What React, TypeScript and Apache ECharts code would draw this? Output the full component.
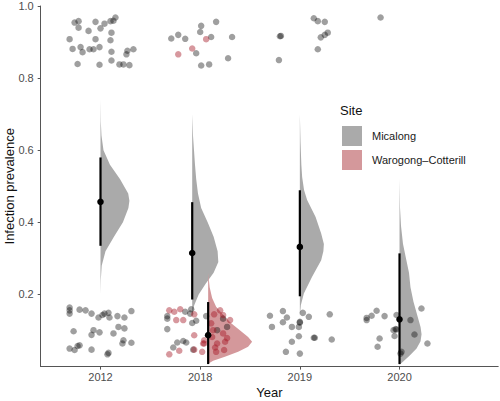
import React, { useEffect, useRef } from 'react';
import * as echarts from 'echarts';

const years = ['2012', '2018', '2019', '2020'];
const yTicks = [0.2, 0.4, 0.6, 0.8, 1.0];

// Raw observations: [jitter offset from the year position, prevalence]
const mic2012: [number, number][] = [
  [-0.26, 0.954], [-0.22, 0.958], [-0.22, 0.94], [-0.12, 0.931], [-0.05, 0.956], [0, 0.938], [0.04, 0.951],
  [0.1, 0.958], [0.13, 0.959], [0.15, 0.968], [0.11, 0.926], [-0.31, 0.908], [-0.05, 0.908], [0.1, 0.905],
  [-0.28, 0.881], [-0.2, 0.886], [-0.18, 0.872], [-0.11, 0.88], [-0.07, 0.88], [-0.01, 0.886], [0.11, 0.873],
  [0.27, 0.876], [0.33, 0.88], [0.26, 0.866], [-0.23, 0.839], [-0.01, 0.837], [0.11, 0.849], [0.19, 0.838],
  [0.23, 0.838], [0.29, 0.836],
  [-0.31, 0.164], [-0.31, 0.156], [-0.31, 0.147], [-0.21, 0.158], [-0.15, 0.156], [-0.09, 0.147], [-0.02, 0.136],
  [0.02, 0.143], [0.04, 0.147], [0.08, 0.149], [0.09, 0.136], [0.17, 0.14], [0.24, 0.136], [0.31, 0.154],
  [-0.27, 0.098], [-0.07, 0.101], [-0.09, 0.088], [-0.01, 0.095], [0.13, 0.092], [0.18, 0.11], [0.24, 0.106],
  [0.23, 0.073], [0.22, 0.064], [0.31, 0.066], [-0.31, 0.05], [-0.26, 0.046], [-0.23, 0.057], [-0.21, 0.059],
  [-0.09, 0.047], [0.08, 0.038], [0.07, 0.034],
];
const mic2018: [number, number][] = [
  [-0.29, 0.91], [-0.22, 0.92], [-0.15, 0.909], [0.01, 0.945], [0.0, 0.928], [0.16, 0.956], [0.11, 0.914],
  [0.32, 0.914], [-0.04, 0.869], [0.28, 0.855], [0.01, 0.835], [0.09, 0.838],
  [-0.33, 0.133], [-0.33, 0.104], [-0.15, 0.152], [-0.1, 0.147], [-0.09, 0.159], [-0.08, 0.121], [-0.04, 0.127],
  [0.06, 0.14], [-0.23, 0.067], [-0.17, 0.071], [-0.14, 0.067], [-0.27, 0.053], [-0.07, 0.047], [0.17, 0.101],
  [0.27, 0.11], [0.23, 0.133], [-0.33, 0.14],
];
const war2018: [number, number][] = [
  [-0.22, 0.866], [-0.08, 0.882], [0.06, 0.908],
  [-0.31, 0.156], [-0.26, 0.152], [-0.2, 0.159], [-0.24, 0.129], [-0.17, 0.129], [-0.06, 0.145], [-0.06, 0.087],
  [0.04, 0.073], [0.03, 0.064], [-0.31, 0.034], [-0.21, 0.044], [0.02, 0.041], [0.2, 0.156], [0.23, 0.143],
  [0.3, 0.129], [0.23, 0.092], [0.17, 0.064], [0.25, 0.069], [0.24, 0.046], [0.16, 0.041], [0.15, 0.053],
  [0.12, 0.082], [0.14, 0.145], [0.04, 0.064], [-0.06, 0.047], [0.11, 0.12], [0.27, 0.079], [0.13, 0.101],
];
const mic2019: [number, number][] = [
  [-0.2, 0.916], [-0.19, 0.917], [-0.21, 0.85], [0.14, 0.966], [0.18, 0.958], [0.25, 0.956], [0.28, 0.926],
  [0.25, 0.92], [0.21, 0.913], [0.18, 0.88],
  [-0.3, 0.141], [-0.28, 0.11], [-0.17, 0.154], [-0.13, 0.136], [-0.17, 0.123], [-0.08, 0.11], [-0.01, 0.11],
  [0.0, 0.122], [0.0, 0.124], [0.03, 0.149], [0.09, 0.138], [-0.01, 0.084], [-0.08, 0.069], [-0.14, 0.041],
  [0.0, 0.036], [0.14, 0.08], [0.15, 0.08], [0.3, 0.145], [0.32, 0.075],
];
const mic2020: [number, number][] = [
  [-0.19, 0.968],
  [-0.33, 0.129], [-0.33, 0.135], [-0.28, 0.141], [-0.23, 0.155], [-0.15, 0.14], [-0.03, 0.143], [-0.06, 0.101],
  [-0.04, 0.104], [-0.03, 0.103], [-0.05, 0.085], [-0.2, 0.078], [-0.22, 0.055], [0.02, 0.041], [0.01, 0.036],
  [0.11, 0.129], [0.15, 0.089], [0.22, 0.161], [0.28, 0.064],
];

// Posterior densities: prevalence levels and half-violin widths (category units)
const dMic2012Lv = [0.74, 0.68, 0.64, 0.6, 0.56, 0.52, 0.48, 0.46, 0.44, 0.4, 0.36, 0.32, 0.28, 0.24, 0.2];
const dMic2012W = [0, 0.003, 0.01, 0.03, 0.095, 0.195, 0.278, 0.29, 0.28, 0.225, 0.135, 0.05, 0.012, 0.003, 0];
const dMic2018Lv = [0.7, 0.64, 0.6, 0.56, 0.52, 0.48, 0.44, 0.4, 0.36, 0.32, 0.29, 0.26, 0.23, 0.2, 0.17, 0.14];
const dMic2018W = [0, 0.008, 0.018, 0.028, 0.04, 0.058, 0.09, 0.155, 0.215, 0.255, 0.262, 0.215, 0.135, 0.065, 0.02, 0];
const dMic2019Lv = [0.7, 0.62, 0.56, 0.526, 0.49, 0.462, 0.415, 0.369, 0.34, 0.32, 0.295, 0.249, 0.203, 0.17, 0.14];
const dMic2019W = [0, 0.007, 0.015, 0.023, 0.042, 0.073, 0.158, 0.214, 0.241, 0.236, 0.214, 0.123, 0.04, 0.01, 0];
const dMic2020Lv = [0.52, 0.44, 0.39, 0.34, 0.3, 0.26, 0.22, 0.18, 0.14, 0.11, 0.09, 0.07, 0.05, 0.03, 0.015, 0.005];
const dMic2020W = [0, 0.005, 0.015, 0.035, 0.065, 0.095, 0.11, 0.14, 0.18, 0.211, 0.221, 0.211, 0.171, 0.1, 0.04, 0];
const dWar2018Lv = [0.26, 0.22, 0.19, 0.166, 0.138, 0.12, 0.101, 0.082, 0.069, 0.055, 0.041, 0.027, 0.016, 0.008];
const dWar2018W = [0, 0.015, 0.04, 0.08, 0.168, 0.231, 0.318, 0.401, 0.441, 0.401, 0.301, 0.168, 0.05, 0];

// Posterior summaries: [lower, upper, point estimate]
const sumMic2012 = [0.335, 0.58, 0.457];
const sumMic2018 = [0.186, 0.456, 0.315];
const sumMic2019 = [0.195, 0.489, 0.332];
const sumMic2020 = [0.007, 0.314, 0.131];
const sumWar2018 = [0.007, 0.179, 0.087];

const DODGE = 0.08;
const GREY = '#aaaaaa';
const PINK = '#d4989b';
const FONT = '"Liberation Sans", Arial, Helvetica, sans-serif';

export default function App() {
  const ref = useRef<HTMLDivElement>(null);
  useEffect(() => {
    if (!ref.current) return;
    const chart = echarts.init(ref.current, undefined, { renderer: 'svg' });

    const micObs = [mic2012, mic2018, mic2019, mic2020];
    const micDens = [
      [dMic2012Lv, dMic2012W], [dMic2018Lv, dMic2018W], [dMic2019Lv, dMic2019W], [dMic2020Lv, dMic2020W],
    ];
    const micSum = [sumMic2012, sumMic2018, sumMic2019, sumMic2020];
    const micCenters = [1, 2 - DODGE, 3, 4];
    const warCenter = 2 + DODGE;

    const micPts: number[][] = [];
    micObs.forEach((arr, i) => arr.forEach(([dx, v]) => micPts.push([i + 1 + dx, v])));
    const warPts = war2018.map(([dx, v]) => [2 + dx, v]);

    const violin = (dens: number[][][], centers: number[], fill: string) =>
      (params: any, api: any) => {
        const i = params.dataIndex;
        const [lv, w] = dens[i];
        const c = centers[i];
        const points = lv.map((v: number, k: number) => api.coord([c + w[k], v]));
        return { type: 'polygon', shape: { points }, style: { fill } };
      };

    const intervals = [
      ...micSum.map((s, i) => [micCenters[i], s[0], s[1], s[2]]),
      [warCenter, sumWar2018[0], sumWar2018[1], sumWar2018[2]],
    ];

    chart.setOption({
      animation: false,
      grid: { left: 40.7, top: 6, width: 457.5, height: 360.6, outerBoundsMode: 'none', containLabel: false },
      legend: {
        data: ['Micalong', 'Warogong–Cotterill'],
        orient: 'vertical',
        left: 342,
        top: 126,
        itemWidth: 20,
        itemHeight: 20,
        itemGap: 4,
        padding: 0,
        icon: 'rect',
        selectedMode: false,
        textStyle: { fontFamily: FONT, fontSize: 11, color: '#1a1a1a', padding: [0, 0, 0, 5] },
      },
      graphic: [
        { type: 'text', x: 340, y: 110, style: { text: 'Site', font: `13px ${FONT}`, fill: '#111', verticalAlign: 'middle' } },
      ],
      xAxis: {
        type: 'value',
        min: 0.4,
        max: 4.99,
        name: 'Year',
        nameLocation: 'middle',
        nameGap: 19,
        nameMoveOverlap: false,
        nameTextStyle: { fontFamily: FONT, fontSize: 13, color: '#111' },
        axisLine: { show: true, onZero: false, lineStyle: { color: '#555', width: 1 } },
        axisTick: { show: true, length: 3, customValues: [1, 2, 3, 4], lineStyle: { color: '#555' } },
        axisLabel: {
          customValues: [1, 2, 3, 4],
          formatter: (v: number) => years[Math.round(v) - 1] ?? '',
          fontFamily: FONT, fontSize: 11, color: '#4d4d4d', margin: 5,
        },
        splitLine: { show: false },
      },
      yAxis: {
        type: 'value',
        min: 0,
        max: 1,
        interval: 0.2,
        name: 'Infection prevalence',
        nameLocation: 'middle',
        nameGap: 25,
        nameMoveOverlap: false,
        nameTextStyle: { fontFamily: FONT, fontSize: 13, color: '#111' },
        axisLine: { show: true, lineStyle: { color: '#555', width: 1 } },
        axisTick: { show: true, length: 3, customValues: yTicks, lineStyle: { color: '#555' } },
        axisLabel: {
          customValues: yTicks,
          formatter: (v: number) => v.toFixed(1),
          fontFamily: FONT, fontSize: 11, color: '#4d4d4d', margin: 7,
        },
        splitLine: { show: false },
      },
      series: [
        {
          name: 'Micalong',
          type: 'custom',
          z: 1,
          itemStyle: { color: GREY },
          renderItem: violin(micDens, micCenters, GREY),
          encode: { x: 0, y: 1 },
          data: micCenters.map((c, i) => [c, micSum[i][2]]),
          clip: false,
        },
        {
          name: 'Warogong–Cotterill',
          type: 'custom',
          z: 2,
          itemStyle: { color: PINK },
          renderItem: violin([[dWar2018Lv, dWar2018W]], [warCenter], PINK),
          encode: { x: 0, y: 1 },
          data: [[warCenter, sumWar2018[2]]],
          clip: false,
        },
        {
          name: 'obsMicalong',
          type: 'scatter',
          z: 3,
          symbolSize: 6.5,
          itemStyle: { color: 'rgba(0,0,0,0.47)' },
          data: micPts,
          clip: false,
        },
        {
          name: 'obsWarogong',
          type: 'scatter',
          z: 4,
          symbolSize: 6.5,
          itemStyle: { color: 'rgba(165,20,35,0.55)' },
          data: warPts,
          clip: false,
        },
        {
          name: 'summary',
          type: 'custom',
          z: 5,
          encode: { x: 0, y: [1, 2, 3] },
          data: intervals,
          clip: false,
          renderItem: (params: any, api: any) => {
            const c = api.value(0);
            const lo = api.coord([c, api.value(1)]);
            const hi = api.coord([c, api.value(2)]);
            const md = api.coord([c, api.value(3)]);
            return {
              type: 'group',
              children: [
                { type: 'line', shape: { x1: lo[0], y1: lo[1], x2: hi[0], y2: hi[1] }, style: { stroke: '#000', lineWidth: 2.2 } },
                { type: 'circle', shape: { cx: md[0], cy: md[1], r: 3.3 }, style: { fill: '#000' } },
              ],
            };
          },
        },
      ],
    });
    return () => chart.dispose();
  }, []);
  return <div ref={ref} style={{ position: 'absolute', left: 0, top: 0, width: 500, height: 401 }} />;
}
